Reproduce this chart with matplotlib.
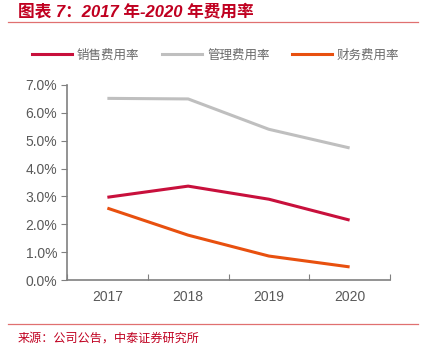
import numpy as np
import matplotlib
matplotlib.use('Agg')
import matplotlib.pyplot as plt
from matplotlib.lines import Line2D

plt.rcParams['font.family'] = ['Noto Sans CJK SC', 'DejaVu Sans']

# data
years = ['2017', '2018', '2019', '2020']
sales = [2.97, 3.37, 2.90, 2.15]   # 销售费用率 (%)
admin = [6.52, 6.50, 5.41, 4.74]   # 管理费用率 (%)
fin = [2.58, 1.61, 0.86, 0.47]     # 财务费用率 (%)
names = ['销售费用率', '管理费用率', '财务费用率']
colors = ['#C8103C', '#BFBFBF', '#E8500F']

W, H = 423, 353
fig = plt.figure(figsize=(W / 100, H / 100), dpi=100)
ax = fig.add_axes([67 / W, 1 - 280 / H, (390 - 67) / W, (280 - 85) / H])

x = np.arange(len(years))
for vals, name, c in zip([sales, admin, fin], names, colors):
    ax.plot(x, vals, color=c, lw=2.2, label=name, solid_capstyle='butt')

ax.set_xlim(-0.5, 3.5)
ax.set_ylim(0, 7)
ax.set_yticks(np.arange(0, 7.1, 1))
ax.set_yticklabels(['%.1f%%' % v for v in np.arange(0, 7.1, 1)],
                   family='Liberation Sans', fontsize=10, color='#595959')
ax.set_xticks([-0.5, 0.5, 1.5, 2.5, 3.5])
ax.set_xticklabels([])
ax.set_xticks(x, minor=True)
ax.set_xticklabels(years, minor=True, family='Liberation Sans', fontsize=10, color='#595959')
ax.tick_params(axis='x', which='minor', length=0, pad=7)
ax.tick_params(axis='x', which='major', length=4, direction='in', color='#808080')
ax.tick_params(axis='y', length=4, direction='out', color='#808080', pad=3)
for s in ['top', 'right']:
    ax.spines[s].set_visible(False)
for s in ['left', 'bottom']:
    ax.spines[s].set_color('#808080')
    ax.spines[s].set_linewidth(1.2)

handles = [Line2D([], [], color=c, lw=2.2) for c in colors]
fig.legend(handles, names, loc='center', bbox_to_anchor=(0.51, 1 - 55 / H), ncol=3,
           frameon=False, fontsize=9, handlelength=3.2, columnspacing=1.8,
           handletextpad=0.4, labelcolor='#6a6a6a')

# title, rules and source
fig.text(18 / W, 1 - 11 / H, '图表 7：2017 年-2020 年费用率', fontsize=12,
         fontweight='bold', style='italic', color='#C00020', va='center',
         family=['Liberation Sans', 'Noto Sans CJK SC'])
fig.add_artist(Line2D([8 / W, 418 / W], [1 - 22 / H, 1 - 22 / H], color='#E07070', lw=0.9))
fig.add_artist(Line2D([8 / W, 418 / W], [1 - 324 / H, 1 - 324 / H], color='#E07070', lw=0.9))
fig.text(18 / W, 1 - 338 / H, '来源：公司公告，中泰证券研究所', fontsize=8.7,
         color='#C00020', va='center')

fig.savefig('out.png', dpi=100)
